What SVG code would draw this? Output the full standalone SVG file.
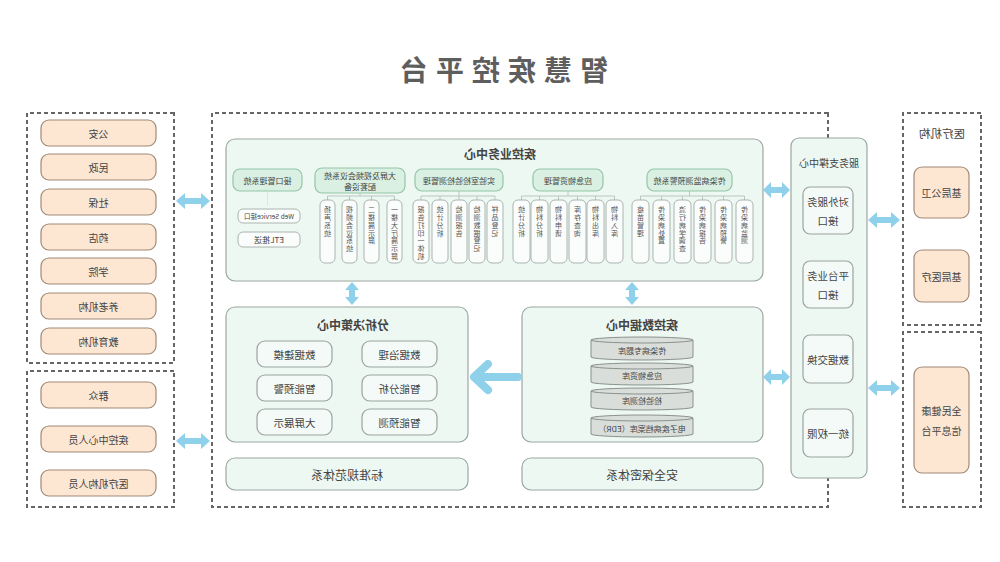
<svg xmlns="http://www.w3.org/2000/svg" width="1000" height="562" viewBox="0 0 1000 562">
<style>
text{font-family:"Noto Sans CJK SC","Noto Sans",sans-serif;fill:#444;text-anchor:middle;dominant-baseline:central}
.dash{fill:none;stroke:#666;stroke-width:2;stroke-dasharray:4 3}
.org{fill:#fde7d3;stroke:#a08a78;stroke-width:1.2}
.ctr{fill:#eef8f3;stroke:#9aa8a0;stroke-width:1.2}
.hdr{fill:#d9f0e2;stroke:#93c6a6;stroke-width:1.2}
.col{fill:#fbfdfc;stroke:#aab4ae;stroke-width:1}
.itm{fill:#f4faf7;stroke:#9aa39e;stroke-width:1.2}
.cyl{fill:#d9dedb;stroke:#8a918d;stroke-width:1}
.arw{fill:#8fd0ea}
.big{fill:none;stroke:#8fd0ea;stroke-width:8;stroke-linecap:round;stroke-linejoin:round}
.tree{fill:none;stroke:#b9c6be;stroke-width:1}
.v{writing-mode:vertical-rl;text-anchor:start;dominant-baseline:auto;font-size:7px;letter-spacing:0.8px;fill:#555}
.h8{font-size:8px}
.t10{font-size:10px}
.t11{font-size:10.5px}
.t12{font-size:12px;font-weight:bold}
</style>
<g transform="matrix(-1 0 0 1 1000 0)">
<text id="title" x="500" y="69" style="font-size:28px;font-weight:bold;fill:#5e5e5e;letter-spacing:8px">智慧疾控平台</text>

<g id="left-inst">
<rect class="dash" x="19" y="113" width="78" height="212"/>
<text x="58" y="133" style="font-size:11.5px">医疗机构</text>
<rect class="org" x="31" y="167" width="55" height="51" rx="8"/>
<text class="t10" x="58.5" y="192.5">基层公卫</text>
<rect class="org" x="31" y="250" width="55" height="52" rx="8"/>
<text class="t10" x="58.5" y="276">基层医疗</text>
</g>
<g id="left-platform">
<rect class="dash" x="19" y="332" width="78" height="175"/>
<rect class="org" x="31" y="367" width="55" height="106" rx="8"/>
<text class="t10" x="58.5" y="410">全民健康</text>
<text class="t10" x="58.5" y="430">信息平台</text>
</g>

<rect id="main-frame" class="dash" x="172" y="113" width="616" height="394"/>

<g id="service-center">
<rect class="ctr" x="133" y="138" width="76" height="340" rx="8"/>
<text x="171" y="162" style="font-size:10px">服务支撑中心</text>
<rect class="itm" x="147" y="187" width="50" height="47" rx="7"/>
<text class="t11" x="172" y="201">对外服务</text>
<text class="t11" x="172" y="220">接口</text>
<rect class="itm" x="147" y="261" width="50" height="47" rx="7"/>
<text class="t11" x="172" y="275">平台业务</text>
<text class="t11" x="172" y="294">接口</text>
<rect class="itm" x="147" y="335" width="50" height="48" rx="7"/>
<text class="t11" x="172" y="359">数据交换</text>
<rect class="itm" x="147" y="409" width="50" height="48" rx="7"/>
<text class="t11" x="172" y="433">统一权限</text>
</g>

<g id="business-center">
<rect class="ctr" x="237" y="139" width="537" height="142" rx="9"/>
<text class="t12" x="500" y="153">疾控业务中心</text>
<rect class="hdr" x="268" y="169" width="85" height="22" rx="7"/>
<text class="h8" x="310.5" y="180">传染病监测预警系统</text>
<rect class="hdr" x="397" y="169" width="70" height="22" rx="7"/>
<text class="h8" x="432" y="180">应急物资管理</text>
<rect class="hdr" x="497" y="169" width="88" height="22" rx="7"/>
<text class="h8" x="541" y="180">实验室检验检测管理</text>
<rect class="hdr" x="595" y="168" width="90" height="25" rx="7"/>
<text class="h8" x="640" y="175.5">大屏及视频会议系统</text>
<text class="h8" x="640" y="186">配套设备</text>
<rect class="hdr" x="698" y="169" width="69" height="22" rx="7"/>
<text class="h8" x="732.5" y="180">接口管理系统</text>

<g id="tree-lines">
<path class="tree" d="M310.5,191V196M255.5,196H359.5M255.5,196V200M276.5,196V200M297.5,196V200M317.5,196V200M338.5,196V200M359.5,196V200"/>
<path class="tree" d="M432,191V196M385.5,196H478.5M385.5,196V200M404.5,196V200M422.5,196V200M441.5,196V200M460.5,196V200M478.5,196V200"/>
<path class="tree" d="M541,191V196M505,196H579M505,196V200M523,196V200M541,196V200M560,196V200M579,196V200"/>
<path class="tree" d="M640,193V196M605.5,196H672.5M605.5,196V200M628.5,196V200M650.5,196V200M672.5,196V200"/>
<path class="tree" d="M732.5,192V206" style="stroke:#dfe6e2"/>
</g>

<rect class="col" x="247" y="200" width="17" height="63" rx="5"/><text class="v" x="255.5" y="206">传染病监测</text>
<rect class="col" x="268" y="200" width="17" height="63" rx="5"/><text class="v" x="276.5" y="206">传染病预警</text>
<rect class="col" x="289" y="200" width="17" height="63" rx="5"/><text class="v" x="297.5" y="206">传染病报告</text>
<rect class="col" x="309" y="200" width="17" height="63" rx="5"/><text class="v" x="317.5" y="206">流行病学调查</text>
<rect class="col" x="330" y="200" width="17" height="63" rx="5"/><text class="v" x="338.5" y="206">传染病处置</text>
<rect class="col" x="351" y="200" width="17" height="63" rx="5"/><text class="v" x="359.5" y="206">疫苗管理</text>

<rect class="col" x="377" y="200" width="17" height="63" rx="5"/><text class="v" x="385.5" y="206">物料入库</text>
<rect class="col" x="396" y="200" width="17" height="63" rx="5"/><text class="v" x="404.5" y="206">物料出库</text>
<rect class="col" x="414" y="200" width="17" height="63" rx="5"/><text class="v" x="422.5" y="206">库存查询</text>
<rect class="col" x="433" y="200" width="17" height="63" rx="5"/><text class="v" x="441.5" y="206">物料申请</text>
<rect class="col" x="452" y="200" width="17" height="63" rx="5"/><text class="v" x="460.5" y="206">物料分析</text>
<rect class="col" x="470" y="200" width="17" height="63" rx="5"/><text class="v" x="478.5" y="206">统计分析</text>

<rect class="col" x="497" y="200" width="16" height="63" rx="5"/><text class="v" x="505" y="206">样品登记</text>
<rect class="col" x="515" y="200" width="16" height="63" rx="5"/><text class="v" x="523" y="206">检测数据登记</text>
<rect class="col" x="533" y="200" width="16" height="63" rx="5"/><text class="v" x="541" y="206">检测报告</text>
<rect class="col" x="552" y="200" width="16" height="63" rx="5"/><text class="v" x="560" y="206">统计分析</text>
<rect class="col" x="571" y="200" width="16" height="63" rx="5"/><text class="v" x="579" y="206">报告打印一体机</text>

<rect class="col" x="598" y="200" width="15" height="63" rx="5"/><text class="v" x="605.5" y="206">一楼大厅展示屏</text>
<rect class="col" x="621" y="200" width="15" height="63" rx="5"/><text class="v" x="628.5" y="206">二楼展示屏</text>
<rect class="col" x="643" y="200" width="15" height="63" rx="5"/><text class="v" x="650.5" y="206">视频会议系统</text>
<rect class="col" x="665" y="200" width="15" height="63" rx="5"/><text class="v" x="672.5" y="206">扬声系统</text>

<rect class="col" x="700" y="209" width="62" height="14" rx="5"/>
<text x="731" y="216" style="font-size:6.5px">Web Service接口</text>
<rect class="col" x="700" y="232" width="62" height="15" rx="5"/>
<text class="h8" x="731" y="239.5">ETL推送</text>
</g>

<g id="data-center">
<rect class="ctr" x="237" y="307" width="241" height="135" rx="9"/>
<text class="t12" x="358" y="324">疾控数据中心</text>
<path class="cyl" d="M307,340a51,3 0 0,1 102,0v17a51,3 0 0,1 -102,0z"/><path class="tree" d="M307,340a51,3 0 0,0 102,0" style="stroke:#8a918d"/>
<text class="h8" x="358" y="350">传染病专题库</text>
<path class="cyl" d="M307,366a51,3 0 0,1 102,0v16a51,3 0 0,1 -102,0z"/><path class="tree" d="M307,366a51,3 0 0,0 102,0" style="stroke:#8a918d"/>
<text class="h8" x="358" y="375.5">应急物资库</text>
<path class="cyl" d="M307,391a51,3 0 0,1 102,0v16a51,3 0 0,1 -102,0z"/><path class="tree" d="M307,391a51,3 0 0,0 102,0" style="stroke:#8a918d"/>
<text class="h8" x="358" y="400.5">检验检测库</text>
<path class="cyl" d="M307,418a51,3 0 0,1 102,0v16a51,3 0 0,1 -102,0z"/><path class="tree" d="M307,418a51,3 0 0,0 102,0" style="stroke:#8a918d"/>
<text class="h8" x="358" y="428">电子疾病档案库（EDR）</text>
</g>

<g id="analysis-center">
<rect class="ctr" x="532" y="307" width="242" height="135" rx="9"/>
<text class="t12" x="647" y="324">分析决策中心</text>
<rect class="itm" x="563" y="341" width="75" height="26" rx="8"/><text class="t11" x="600.5" y="354">数据治理</text>
<rect class="itm" x="668" y="341" width="75" height="26" rx="8"/><text class="t11" x="705.5" y="354">数据建模</text>
<rect class="itm" x="563" y="375" width="75" height="26" rx="8"/><text class="t11" x="600.5" y="388">智能分析</text>
<rect class="itm" x="668" y="375" width="75" height="26" rx="8"/><text class="t11" x="705.5" y="388">智能预警</text>
<rect class="itm" x="563" y="409" width="75" height="26" rx="8"/><text class="t11" x="600.5" y="422">智能预测</text>
<rect class="itm" x="668" y="409" width="75" height="26" rx="8"/><text class="t11" x="705.5" y="422">大屏展示</text>
</g>

<g id="security">
<rect class="ctr" x="237" y="458" width="241" height="32" rx="9"/>
<text x="358" y="474" style="font-size:12px">安全保密体系</text>
</g>
<g id="standards">
<rect class="ctr" x="532" y="458" width="242" height="32" rx="9"/>
<text x="653" y="474" style="font-size:12px">标准规范体系</text>
</g>

<g id="right-gov">
<rect class="dash" x="826" y="113" width="147" height="250"/>
<rect class="org" x="844" y="120" width="115" height="26" rx="8"/><text class="t10" x="901.5" y="133">公安</text>
<rect class="org" x="844" y="154" width="115" height="26" rx="8"/><text class="t10" x="901.5" y="167">民政</text>
<rect class="org" x="844" y="189" width="115" height="26" rx="8"/><text class="t10" x="901.5" y="202">社保</text>
<rect class="org" x="844" y="224" width="115" height="26" rx="8"/><text class="t10" x="901.5" y="237">药店</text>
<rect class="org" x="844" y="258" width="115" height="26" rx="8"/><text class="t10" x="901.5" y="271">学院</text>
<rect class="org" x="844" y="293" width="115" height="26" rx="8"/><text class="t10" x="901.5" y="306">养老机构</text>
<rect class="org" x="844" y="328" width="115" height="26" rx="8"/><text class="t10" x="901.5" y="341">教育机构</text>
</g>
<g id="right-users">
<rect class="dash" x="826" y="371" width="147" height="136"/>
<rect class="org" x="844" y="382" width="115" height="26" rx="8"/><text class="t10" x="901.5" y="395">群众</text>
<rect class="org" x="844" y="426" width="115" height="26" rx="8"/><text class="t10" x="901.5" y="439">疾控中心人员</text>
<rect class="org" x="844" y="470" width="115" height="26" rx="8"/><text class="t10" x="901.5" y="483">医疗机构人员</text>
</g>

<g id="connectors">
<path class="arw" d="M100,220l9,-8v5h14v-5l9,8l-9,8v-5h-14v5z"/>
<path class="arw" d="M100,388l9,-8v5h14v-5l9,8l-9,8v-5h-14v5z"/>
<path class="arw" d="M210,190l8,-8v5h11v-5l8,8l-8,8v-5h-11v5z"/>
<path class="arw" d="M210,377l8,-8v5h11v-5l8,8l-8,8v-5h-11v5z"/>
<path class="arw" d="M790,201l9,-8v5h16v-5l9,8l-9,8v-5h-16v5z"/>
<path class="arw" d="M790,441l9,-8v5h16v-5l9,8l-9,8v-5h-16v5z"/>
<path class="arw" d="M368,282l7,8h-4v7h4l-7,8l-7,-8h4v-7h-4z"/>
<path class="arw" d="M648,282l7,8h-4v7h4l-7,8l-7,-8h4v-7h-4z"/>
<path class="big" d="M482,377H524M512,364L526,377L512,390"/>
</g>
</g>
</svg>
